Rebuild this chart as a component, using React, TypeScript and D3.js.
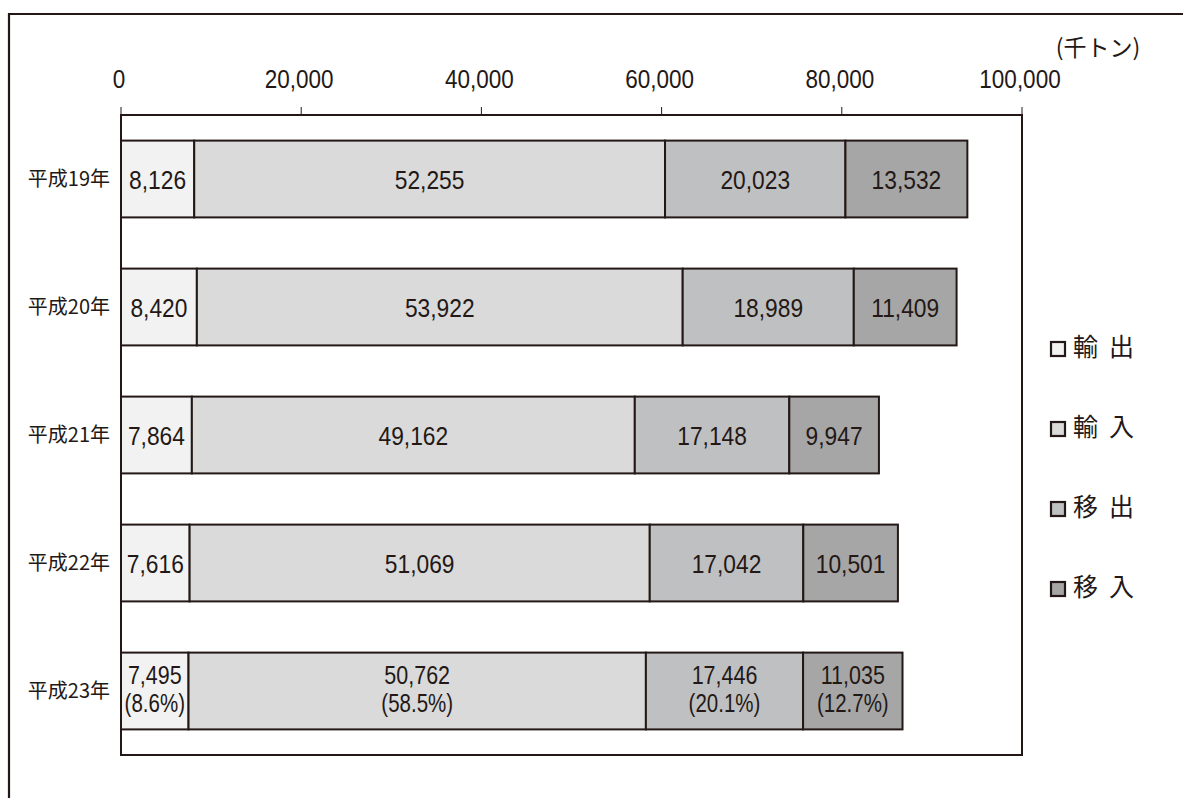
import React from "react";
import * as d3 from "d3";

const years = ["平成19年", "平成20年", "平成21年", "平成22年", "平成23年"];
const seriesNames = ["輸出", "輸入", "移出", "移入"];
const exportsV = [8126, 8420, 7864, 7616, 7495];
const importsV = [52255, 53922, 49162, 51069, 50762];
const outboundV = [20023, 18989, 17148, 17042, 17446];
const inboundV = [13532, 11409, 9947, 10501, 11035];
const lastYearShares = ["(8.6%)", "(58.5%)", "(20.1%)", "(12.7%)"];
const xTicks = [0, 20000, 40000, 60000, 80000, 100000];
const colors = ["#f2f2f2", "#d9dad9", "#bfc0c1", "#a6a6a6"];
const unitLabel = "(千トン)";

const W = 1183;
const H = 798;
const left = 121, right = 1022, top = 115, bottom = 755;
const ink = "#231815";
const NUM = "'Liberation Sans', Arial, sans-serif";
const CJK = "'Noto Sans CJK JP', sans-serif";

function NText({ x, y, size, sx, children }: { x: number; y: number; size: number; sx: number; children: React.ReactNode }) {
  return (
    <text transform={`translate(${x},${y}) scale(${sx},1)`} textAnchor="middle" fontSize={size} fill={ink} fontFamily={NUM}>
      {children}
    </text>
  );
}

export default function App() {
  const x = d3.scaleLinear().domain([0, 100000]).range([left, right]);
  const y = d3.scaleBand<string>().domain(years).range([top, bottom]).paddingInner(0.4).paddingOuter(0.2);
  const series = [exportsV, importsV, outboundV, inboundV];
  const rows = years.map((yr, i) => ({ yr, vals: series.map((s) => s[i]) }));
  const stack = d3.stack<any>().keys(["0", "1", "2", "3"]).value((d: any, k: string) => d.vals[+k]);
  const stacked = stack(rows as any);
  const bw = y.bandwidth();
  const fmt = d3.format(",");

  return (
    <svg width={W} height={H} style={{ position: "absolute", left: 0, top: 0, background: "#fff" }}>
      {/* outer frame */}
      <path d={`M9,${H} V14 H${W}`} fill="none" stroke={ink} strokeWidth={2.2} />
      {/* ticks */}
      {xTicks.map((t) => (
        <g key={t}>
          <line x1={x(t)} x2={x(t)} y1={107} y2={top} stroke={ink} strokeWidth={1} />
          <NText x={x(t) - 2} y={88} size={25} sx={0.9}>{fmt(t)}</NText>
        </g>
      ))}
      <text x={1098} y={56} textAnchor="middle" fontSize={23} fill={ink} fontFamily={CJK}>{unitLabel}</text>
      {/* plot frame */}
      <rect x={left} y={top} width={right - left} height={bottom - top} fill="none" stroke={ink} strokeWidth={2} />
      {/* bars */}
      {stacked.map((layer, si) =>
        layer.map((seg, i) => {
          const x0 = x(seg[0]);
          const x1 = x(seg[1]);
          const yy = y(years[i])!;
          const cx = (x0 + x1) / 2;
          const cy = yy + bw / 2;
          const last = i === years.length - 1;
          return (
            <g key={`${si}-${i}`}>
              <rect x={x0} y={yy} width={x1 - x0} height={bw} fill={colors[si]} stroke={ink} strokeWidth={2} />
              {last ? (
                <>
                  <NText x={cx} y={cy - 7.5} size={25} sx={0.86}>{fmt(series[si][i])}</NText>
                  <NText x={cx} y={cy + 21} size={25} sx={0.82}>{lastYearShares[si]}</NText>
                </>
              ) : (
                <NText x={cx} y={cy + 9.5} size={26.5} sx={0.86}>{fmt(series[si][i])}</NText>
              )}
            </g>
          );
        })
      )}
      {/* category labels */}
      {years.map((yr) => (
        <text key={yr} x={110} y={y(yr)! + bw / 2 + 7} textAnchor="end" fontSize={20} fill={ink} fontFamily={CJK}>{yr}</text>
      ))}
      {/* legend */}
      {seriesNames.map((nm, i) => (
        <g key={nm} transform={`translate(1051, ${342 + i * 80})`}>
          <rect x={0} y={0} width={14} height={14} fill={colors[i]} stroke={ink} strokeWidth={2.2} />
          <text x={22} y={14} fontSize={25} letterSpacing={11} fill={ink} fontFamily={CJK}>{nm}</text>
        </g>
      ))}
    </svg>
  );
}
